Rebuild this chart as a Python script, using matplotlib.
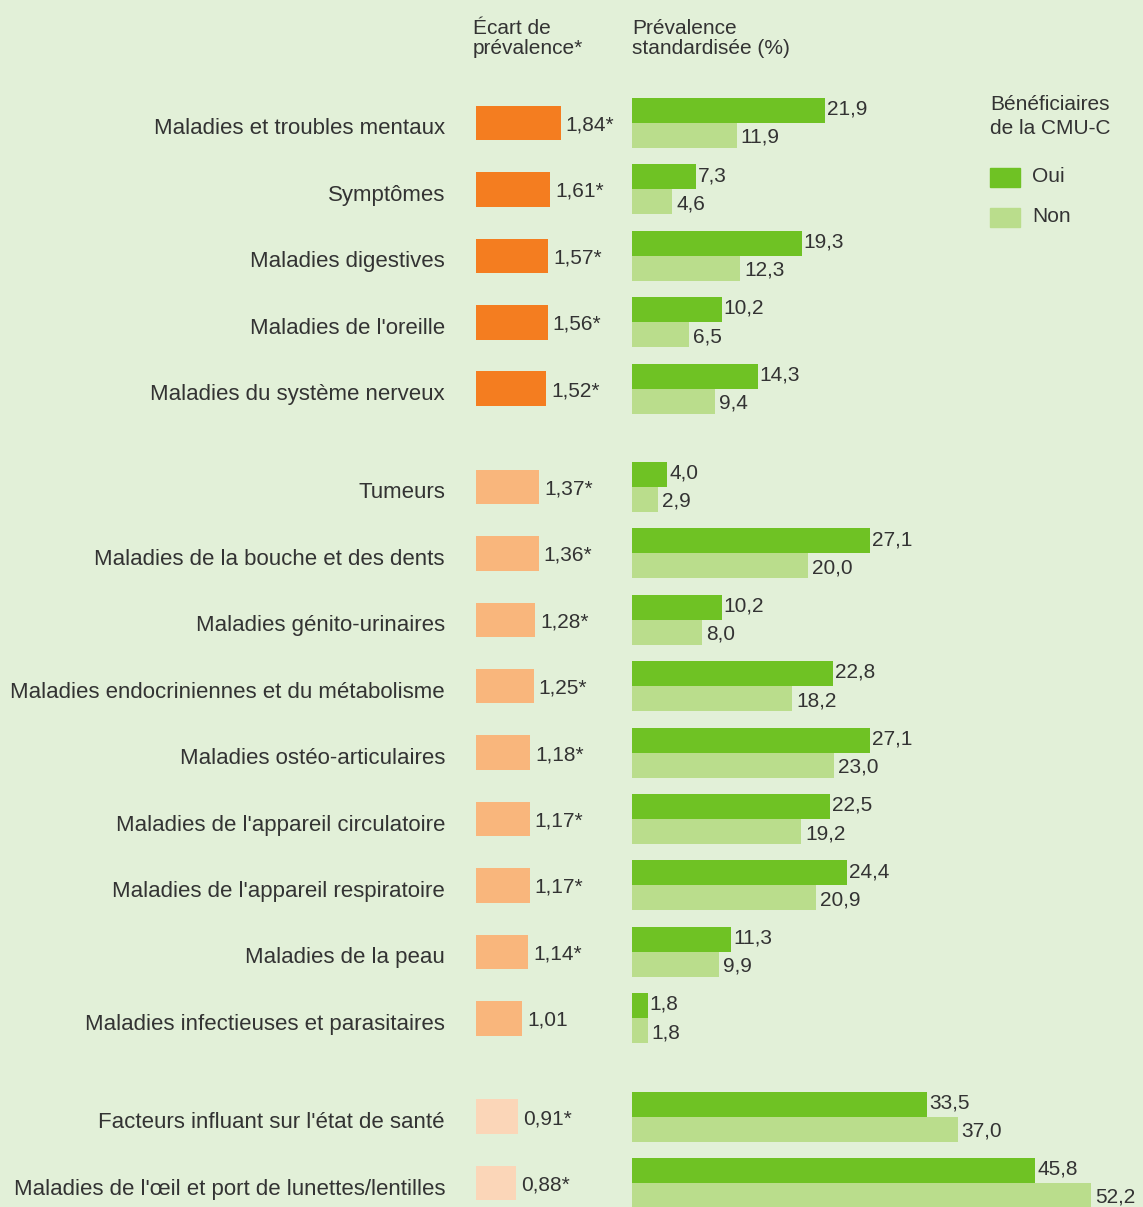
import matplotlib.pyplot as plt
from matplotlib.patches import Rectangle
import numpy as np

plt.rcParams['font.family'] = ['Liberation Sans Narrow', 'Liberation Sans', 'DejaVu Sans']

categories = [
    "Maladies et troubles mentaux", "Symptômes", "Maladies digestives",
    "Maladies de l'oreille", "Maladies du système nerveux",
    "Tumeurs", "Maladies de la bouche et des dents", "Maladies génito-urinaires",
    "Maladies endocriniennes et du métabolisme", "Maladies ostéo-articulaires",
    "Maladies de l'appareil circulatoire", "Maladies de l'appareil respiratoire",
    "Maladies de la peau", "Maladies infectieuses et parasitaires",
    "Facteurs influant sur l'état de santé", "Maladies de l'œil et port de lunettes/lentilles",
]
groups = [0] * 5 + [1] * 9 + [2] * 2
ecart = [1.84, 1.61, 1.57, 1.56, 1.52, 1.37, 1.36, 1.28, 1.25, 1.18, 1.17, 1.17, 1.14, 1.01, 0.91, 0.88]
ecart_signif = [True] * 13 + [False] + [True] * 2
oui = [21.9, 7.3, 19.3, 10.2, 14.3, 4.0, 27.1, 10.2, 22.8, 27.1, 22.5, 24.4, 11.3, 1.8, 33.5, 45.8]
non = [11.9, 4.6, 12.3, 6.5, 9.4, 2.9, 20.0, 8.0, 18.2, 23.0, 19.2, 20.9, 9.9, 1.8, 37.0, 52.2]

bg = '#e2f0d8'
txt = '#333333'
orange_cols = ['#f47d20', '#f9b67c', '#fbd6b8']
c_oui = '#6fc224'
c_non = '#badd8c'

W, H = 1143, 1207
fig = plt.figure(figsize=(W / 100, H / 100), dpi=100, facecolor=bg)

gap = 0.48
pos = np.array([i + gap * g for i, g in enumerate(groups)])
pitch = (1183 - 123) / pos[-1]
ytop = -123 / pitch
ybot = (H - 123) / pitch

# orange axis
ox0, oscale = 476, 46.0
ax_o = fig.add_axes([ox0 / W, 0, 150 / W, 1])
ax_o.set_xlim(0, 150 / oscale)
ax_o.set_ylim(ybot, ytop)
ax_o.axis('off')
ax_o.barh(pos, ecart, height=0.52, color=[orange_cols[g] for g in groups])
for p, v, s in zip(pos, ecart, ecart_signif):
    lab = f"{v:.2f}".replace('.', ',') + ('*' if s else '')
    ax_o.text(v + 5 / oscale, p + 0.03, lab, va='center', ha='left', fontsize=15, color=txt)

# green axis
gx0, gscale = 632, 8.8
ax_g = fig.add_axes([gx0 / W, 0, (W - gx0) / W, 1])
ax_g.set_xlim(0, (W - gx0) / gscale)
ax_g.set_ylim(ybot, ytop)
ax_g.axis('off')
bh = 25 / pitch
ax_g.barh(pos - bh / 2, oui, height=bh, color=c_oui)
ax_g.barh(pos + bh / 2, non, height=bh, color=c_non)
for p, a, b in zip(pos, oui, non):
    ax_g.text(a + 2 / gscale, p - bh / 2 - 0.02, f"{a:.1f}".replace('.', ','),
              va='center', ha='left', fontsize=15, color=txt)
    ax_g.text(b + 4 / gscale, p + bh / 2 + 0.03, f"{b:.1f}".replace('.', ','),
              va='center', ha='left', fontsize=15, color=txt)

# category labels
for p, c in zip(pos, categories):
    y = 1 - (123 + p * pitch + 6) / H
    fig.text(445 / W, y, c, ha='right', va='center', fontsize=16, color=txt)

# headers
fig.text(473 / W, 1 - 19 / H, "Écart de\nprévalence*", ha='left', va='top',
         fontsize=15, color=txt, linespacing=1.1)
fig.text(632 / W, 1 - 19 / H, "Prévalence\nstandardisée (%)", ha='left', va='top',
         fontsize=15, color=txt, linespacing=1.1)

# legend
fig.text(990 / W, 1 - 95 / H, "Bénéficiaires\nde la CMU-C", ha='left', va='top',
         fontsize=15, color=txt, linespacing=1.3)
for yy, col, lab in [(168, c_oui, "Oui"), (208, c_non, "Non")]:
    fig.patches.append(Rectangle((990 / W, 1 - (yy + 19) / H), 30 / W, 19 / H,
                                 transform=fig.transFigure, color=col))
    fig.text(1032 / W, 1 - (yy + 9) / H, lab, ha='left', va='center', fontsize=15, color=txt)

fig.savefig('out.png', dpi=100, facecolor=bg)
